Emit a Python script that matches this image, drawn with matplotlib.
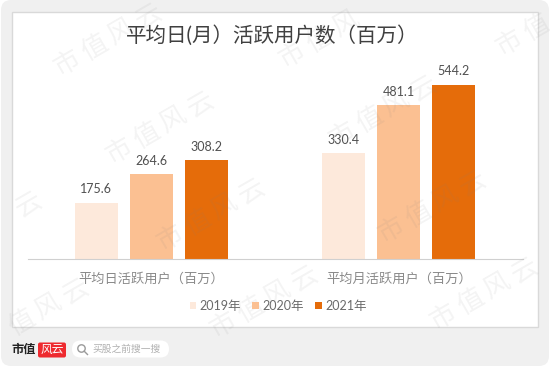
import math
import matplotlib
matplotlib.use('Agg')
import matplotlib.pyplot as plt
from matplotlib.patches import FancyBboxPatch, Rectangle, Circle
from matplotlib.lines import Line2D

plt.rcParams['font.family'] = ['Lato', 'Noto Sans CJK SC', 'DejaVu Sans']

categories = ['平均日活跃用户（百万）', '平均月活跃用户（百万）']
years = ['2019年', '2020年', '2021年']
v2019 = [175.6, 330.4]
v2020 = [264.6, 481.1]
v2021 = [308.2, 544.2]
colors = ['#fde9db', '#fbc092', '#e56c0a']

W, H = 550, 367
fig = plt.figure(figsize=(5.5, 3.67), dpi=100, facecolor='white')

# background, pixel coordinates
bg = fig.add_axes([0, 0, 1, 1], zorder=0)
bg.set_xlim(0, W)
bg.set_ylim(H, 0)
bg.axis('off')
bg.add_patch(FancyBboxPatch((1, 0), W - 2, H - 1, boxstyle='round,pad=0,rounding_size=10',
                            fc='#f0f0f0', ec='none'))
bg.add_patch(Rectangle((11.5, 11.5), 526, 315.5, fc='white', ec='#d9d9d9', lw=1))

# chart
ax = fig.add_axes([27.5 / W, 1 - 259 / H, 495 / W, 174 / H], zorder=1)
ax.patch.set_alpha(0)
ax.set_xlim(-0.5, 1.5)
ax.set_ylim(0, 544.2)
step = 0.2222
width = 0.1737
series = [v2019, v2020, v2021]
handles = []
for i in range(3):
    xs = [k + (i - 1) * step for k in range(2)]
    bars = ax.bar(xs, series[i], width, color=colors[i], label=years[i], clip_on=False)
    handles.append(bars)
    for x, v in zip(xs, series[i]):
        ax.annotate('%.1f' % v, (x, v), xytext=(0, 5.5), textcoords='offset points',
                    ha='center', va='bottom', fontsize=9, color='#505050',
                    annotation_clip=False)
for s in ['top', 'left', 'right']:
    ax.spines[s].set_visible(False)
ax.spines['bottom'].set_color('#d0d0d0')
ax.spines['bottom'].set_linewidth(0.8)
ax.set_yticks([])
ax.set_xticks([0, 1])
ax.set_xticklabels(categories, fontsize=9.5, color='#8a8a8a')
ax.tick_params(axis='x', length=0, pad=9.5)

fig.text(272.5 / W, 1 - 35.5 / H, '平均日(月）活跃用户数（百万）', fontsize=14.8, color='#404040',
         ha='center', va='center')
fig.legend(handles=handles, labels=years, loc='center', bbox_to_anchor=(278 / W, 1 - 306 / H),
           ncol=3, frameon=False, fontsize=9, labelcolor='#6a6a6a', handlelength=0.55,
           handleheight=0.55, handletextpad=0.25, columnspacing=0.9)

# watermark and logo on top
top = fig.add_axes([0, 0, 1, 1], zorder=2)
top.set_xlim(0, W)
top.set_ylim(H, 0)
top.axis('off')
wm_x = [108, 160, 333, 550, 383, 432, 484, 211, 35, -12, 264, 590]
wm_y = [40, 128, 32, 20, 112, 207, 294, 215, 315, 228, 302, 120]
wm_text = '市值风云'
for x, y in zip(wm_x, wm_y):
    for n, ch in enumerate(wm_text):
        off = (n - 1.5) * 31
        cx = x + off * math.cos(math.radians(30))
        cy = y - off * math.sin(math.radians(30))
        if cx < 12 or cx > W - 12 or cy < 12 or cy > H - 12:
            continue
        top.text(cx, cy, ch, fontsize=19, color='#808080', alpha=0.09, rotation=30,
                 ha='center', va='center', rotation_mode='anchor')

top.text(11, 349, '市值', fontsize=8.8, fontweight='bold', color='#222222', va='center')
top.add_patch(FancyBboxPatch((38, 342.5), 28, 15, boxstyle='round,pad=0,rounding_size=2',
                             fc='#ee2a2f', ec='none'))
top.text(52, 349.5, '风云', fontsize=8.5, color='white', style='italic', ha='center', va='center')
top.add_patch(FancyBboxPatch((72, 340.5), 97, 17, boxstyle='round,pad=0,rounding_size=8.5',
                             fc='white', ec='none'))
top.add_patch(Circle((81.5, 348.5), 3.7, fc='none', ec='#9a9a9a', lw=1))
top.add_line(Line2D([84.2, 87.5], [351.2, 354.5], color='#9a9a9a', lw=1))
top.text(92, 349, '买股之前搜一搜', fontsize=7, color='#b0b0b0', va='center')

fig.savefig('out.png', dpi=100)
